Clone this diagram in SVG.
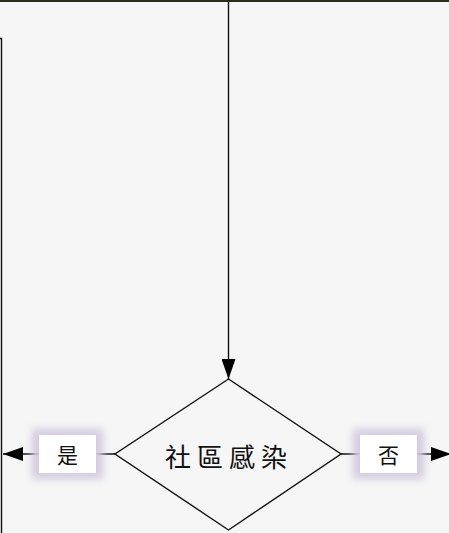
<svg xmlns="http://www.w3.org/2000/svg" width="449" height="533" viewBox="0 0 449 533">
  <style>
    .ln { stroke: #111; stroke-width: 1.4; fill: none; }
    .shape { stroke: #111; stroke-width: 1.4; fill: #f6f6f6; }
    .lbl { fill: #fff; }
    .glow { fill: #d3cadf; }
    .txt { font-family: "Noto Sans CJK TC", "Noto Sans CJK SC", sans-serif; fill: #111; text-anchor: middle; dominant-baseline: central; }
  </style>
  <defs>
    <marker id="arr" viewBox="0 0 20 14" refX="20" refY="7" markerWidth="20" markerHeight="14" markerUnits="userSpaceOnUse" orient="auto">
      <path d="M0,0 L20,7 L0,14 Z" fill="#000"/>
    </marker>
    <filter id="glow" x="-50%" y="-50%" width="200%" height="200%">
      <feGaussianBlur stdDeviation="4.5"/>
    </filter>
  </defs>
  <rect x="0" y="0" width="449" height="533" fill="#f6f6f6"/>
  <rect x="0" y="0" width="449" height="2" fill="#2a2c1c"/>
  <g id="left-box">
    <path class="ln" d="M-5,38.5 H1.5 V540"/>
  </g>
  <g id="connectors">
    <line class="ln" x1="228.5" y1="2" x2="228.5" y2="379" marker-end="url(#arr)"/>
    <line class="ln" x1="115" y1="454" x2="3" y2="454" marker-end="url(#arr)"/>
    <line class="ln" x1="341" y1="454" x2="451" y2="454" marker-end="url(#arr)"/>
  </g>
  <g id="decision">
    <polygon class="shape" points="228.5,379 341,454 228.5,530 115,454"/>
    <text class="txt" x="229" y="455" font-size="26" letter-spacing="6">社區感染</text>
  </g>
  <g id="label-yes">
    <rect class="glow" x="32" y="429" width="71" height="50" filter="url(#glow)"/>
    <rect class="lbl" x="39" y="435" width="57" height="38"/>
    <text class="txt" x="67.5" y="454" font-size="21">是</text>
  </g>
  <g id="label-no">
    <rect class="glow" x="353" y="429" width="71" height="50" filter="url(#glow)"/>
    <rect class="lbl" x="360" y="435" width="57" height="38"/>
    <text class="txt" x="388.5" y="454" font-size="21">否</text>
  </g>
</svg>
